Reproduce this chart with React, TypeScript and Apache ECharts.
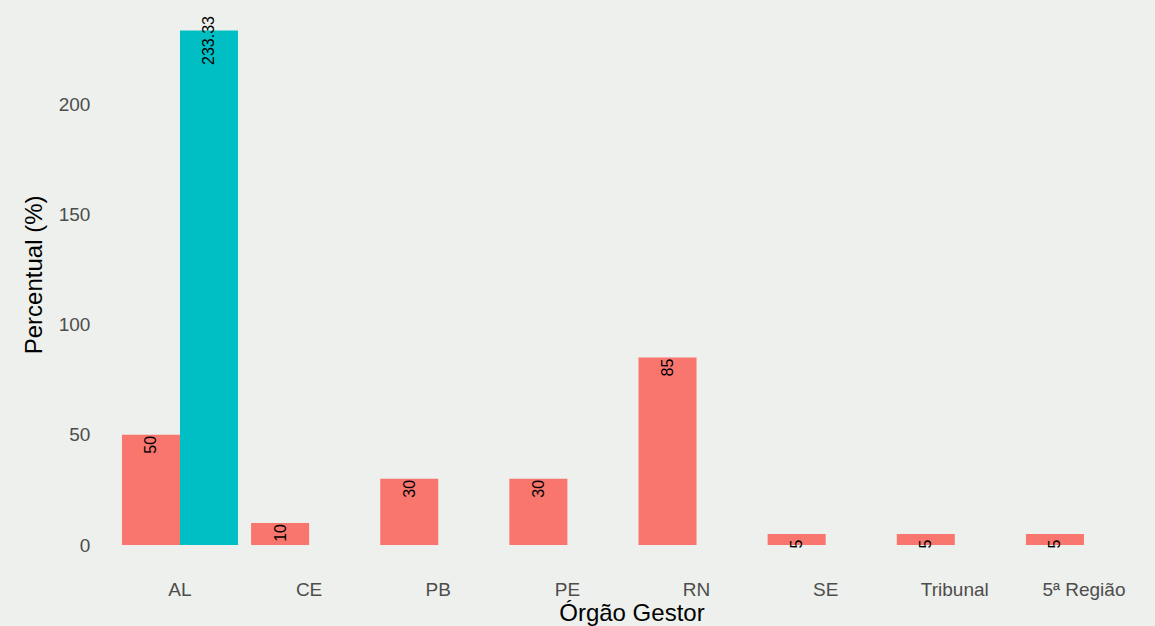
import React, { useEffect, useRef } from "react";
import * as echarts from "echarts";

const categories = ["AL", "CE", "PB", "PE", "RN", "SE", "Tribunal", "5ª Região"];
const seriesA = [50, 10, 30, 30, 85, 5, 5, 5];
const seriesB = [233.33, null, null, null, null, null, null, null];
const yTicks = [0, 50, 100, 150, 200];

export default function App() {
  const ref = useRef<HTMLDivElement>(null);
  useEffect(() => {
    if (!ref.current) return;
    const chart = echarts.init(ref.current, null, { renderer: "svg" });
    const labelCfg = {
      show: true,
      position: "insideTop",
      distance: 10,
      rotate: 90,
      align: "center",
      verticalAlign: "middle",
      color: "#000",
      fontSize: 16,
      fontFamily: "Liberation Sans, Arial, sans-serif",
      formatter: (p: any) => String(p.value),
    };
    chart.setOption({
      animation: false,
      backgroundColor: "#edf0ec",
      grid: { left: 115.4, width: 1033.1, top: 4.8, bottom: 81, outerBoundsMode: "none", containLabel: false },
      xAxis: {
        type: "category",
        data: categories,
        boundaryGap: true,
        axisLine: { show: false },
        axisTick: { show: false },
        axisLabel: {
          color: "#4d4d4d",
          fontSize: 19,
          margin: 35,
          fontFamily: "Liberation Sans, Arial, sans-serif",
        },
        name: "Órgão Gestor",
        nameLocation: "middle",
        nameGap: 55,
        nameMoveOverlap: false,
        nameTextStyle: { color: "#000", fontSize: 24, fontFamily: "Liberation Sans, Arial, sans-serif" },
      },
      yAxis: {
        type: "value",
        min: 0,
        max: 245,
        interval: 50,
        splitLine: { show: false },
        axisLine: { show: false },
        axisTick: { show: false },
        axisLabel: {
          color: "#4d4d4d",
          fontSize: 19,
          margin: 25,
          fontFamily: "Liberation Sans, Arial, sans-serif",
          formatter: (v: number) => (yTicks.includes(v) ? String(v) : ""),
        },
        name: "Percentual (%)",
        nameLocation: "middle",
        nameGap: 70,
        nameMoveOverlap: false,
        nameTextStyle: { color: "#000", fontSize: 24, fontFamily: "Liberation Sans, Arial, sans-serif" },
      },
      series: [
        {
          type: "bar",
          data: seriesA,
          barWidth: 58,
          barGap: "0%",
          itemStyle: { color: "#F8766D" },
          label: labelCfg,
        },
        {
          type: "bar",
          data: seriesB,
          barWidth: 58,
          barGap: "0%",
          itemStyle: { color: "#00BFC4" },
          label: labelCfg,
        },
      ],
    });
    return () => chart.dispose();
  }, []);
  return (
    <div
      ref={ref}
      style={{ position: "fixed", left: 0, top: 0, width: 1155, height: 626 }}
    />
  );
}
